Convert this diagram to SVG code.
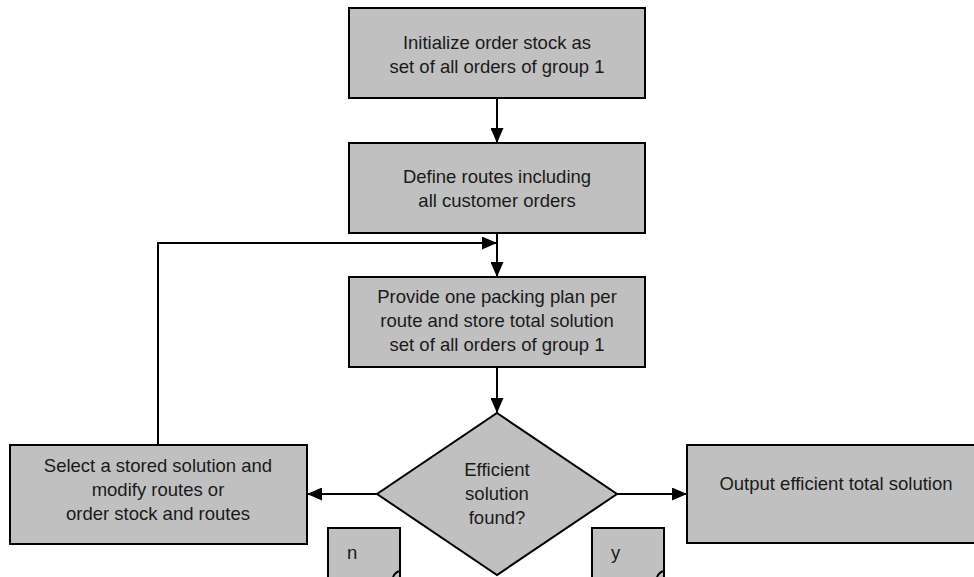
<svg xmlns="http://www.w3.org/2000/svg" width="974" height="577" viewBox="0 0 974 577">
<defs>
<style>
.box{fill:#c0c0c0;stroke:#000;stroke-width:2}
.t{font-family:"Liberation Sans",Arial,sans-serif;font-size:18.5px;fill:#1a1a1a;text-anchor:middle}
.tl{font-family:"Liberation Sans",Arial,sans-serif;font-size:18.5px;fill:#1a1a1a}
.ln{fill:none;stroke:#000;stroke-width:2}
</style>
<marker id="ah" markerWidth="15" markerHeight="13" refX="15" refY="6.5" orient="auto" markerUnits="userSpaceOnUse">
<path d="M0,0 L15,6.5 L0,13 z" fill="#000"/>
</marker>
</defs>
<rect width="974" height="577" fill="#fff"/>
<g id="connectors">
<line class="ln" x1="497" y1="98" x2="497" y2="143" marker-end="url(#ah)"/>
<line class="ln" x1="497" y1="233" x2="497" y2="277" marker-end="url(#ah)"/>
<polyline class="ln" points="158,445 158,243 497,243" marker-end="url(#ah)"/>
<line class="ln" x1="497" y1="367" x2="497" y2="413" marker-end="url(#ah)"/>
<line class="ln" x1="377" y1="494" x2="307" y2="494" marker-end="url(#ah)"/>
<line class="ln" x1="617" y1="494" x2="687" y2="494" marker-end="url(#ah)"/>
</g>
<g id="init">
<rect class="box" x="349" y="8" width="296" height="90"/>
<text class="t" x="497" y="49">Initialize order stock as</text>
<text class="t" x="497" y="73">set of all orders of group 1</text>
</g>
<g id="define">
<rect class="box" x="349" y="143" width="296" height="90"/>
<text class="t" x="497" y="183">Define routes including</text>
<text class="t" x="497" y="207">all customer orders</text>
</g>
<g id="provide">
<rect class="box" x="349" y="277" width="296" height="90"/>
<text class="t" x="497" y="303">Provide one packing plan per</text>
<text class="t" x="497" y="327">route and store total solution</text>
<text class="t" x="497" y="351">set of all orders of group 1</text>
</g>
<g id="decision">
<polygon class="box" points="497,413 617,494 497,575 377,494"/>
<text class="t" x="497" y="476">Efficient</text>
<text class="t" x="497" y="500">solution</text>
<text class="t" x="497" y="524">found?</text>
</g>
<g id="select">
<rect class="box" x="10" y="445" width="297" height="99"/>
<text class="t" x="158" y="472">Select a stored solution and</text>
<text class="t" x="158" y="496">modify routes or</text>
<text class="t" x="158" y="520">order stock and routes</text>
</g>
<g id="output">
<rect class="box" x="687" y="445" width="298" height="98"/>
<text class="t" x="836" y="490">Output efficient total solution</text>
</g>
<g id="label-n">
<rect class="box" x="328" y="528" width="72" height="60"/>
<path class="ln" d="M393,577 Q395,572 400,571"/>
<text class="tl" x="347" y="559">n</text>
</g>
<g id="label-y">
<rect class="box" x="592" y="528" width="72" height="60"/>
<path class="ln" d="M657,577 Q659,572 664,571"/>
<text class="tl" x="611" y="559">y</text>
</g>
</svg>
